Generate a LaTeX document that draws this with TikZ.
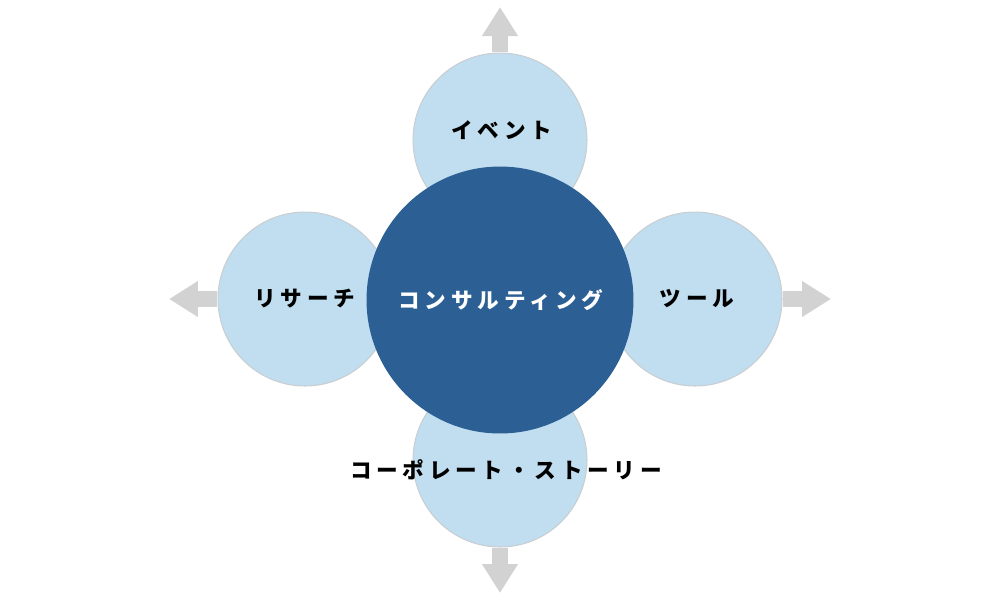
\documentclass[tikz,border=0pt]{standalone}
\usepackage{fontspec}
\usepackage{xcolor}
\usepackage{tikz}
\usetikzlibrary{arrows.meta}
\newfontfamily\jpfont[LetterSpace=22]{Noto Sans CJK JP}
\definecolor{hubdark}{HTML}{2C6094}
\definecolor{hublight}{HTML}{C0DEEF}
\definecolor{hubedge}{HTML}{C9CED2}
\definecolor{hubarrow}{HTML}{D2D2D2}
\tikzset{
  spoke/.style={circle,draw=hubedge,line width=0.6pt,fill=hublight,minimum size=3.48cm,inner sep=0pt},
  hub/.style={circle,fill=hubdark,minimum size=5.34cm,inner sep=0pt},
  spokelbl/.style={font=\jpfont\bfseries\fontsize{12.3}{14}\selectfont,text=black,inner sep=0pt},
  hublbl/.style={font=\jpfont\bfseries\fontsize{12.3}{14}\selectfont,text=white,inner sep=0pt},
  outarrow/.style={-{Triangle[width=0.68cm,length=0.58cm]},line width=0.32cm,draw=hubarrow}
}
\begin{document}
\begin{tikzpicture}[x=0.02cm,y=-0.02cm]
\useasboundingbox (0,0) rectangle (1000,600);
% spokes
\node[spoke] (event) at (500,140) {};
\node[spoke] (research) at (305,299) {};
\node[spoke] (tool) at (695,299) {};
\node[spoke] (story) at (500,460) {};
% arrow ends
\coordinate (eventtip) at (500,7);
\coordinate (researchtip) at (169,299);
\coordinate (tooltip) at (831,299);
\coordinate (storytip) at (500,593);
\draw[outarrow] (event.north) -- (eventtip);
\draw[outarrow] (research.west) -- (researchtip);
\draw[outarrow] (tool.east) -- (tooltip);
\draw[outarrow] (story.south) -- (storytip);
% hub
\node[hub] (consult) at (500,300) {};
\node[hublbl] (consultlbl) at (501,300) {コンサルティング};
\node[spokelbl] (eventlbl) at (502,130) {イベント};
\node[spokelbl] (researchlbl) at (305,299) {リサーチ};
\node[spokelbl] (toollbl) at (697,299) {ツール};
\node[spokelbl] (storylbl) at (506,470) {コーポレート・ストーリー};
\end{tikzpicture}
\end{document}
